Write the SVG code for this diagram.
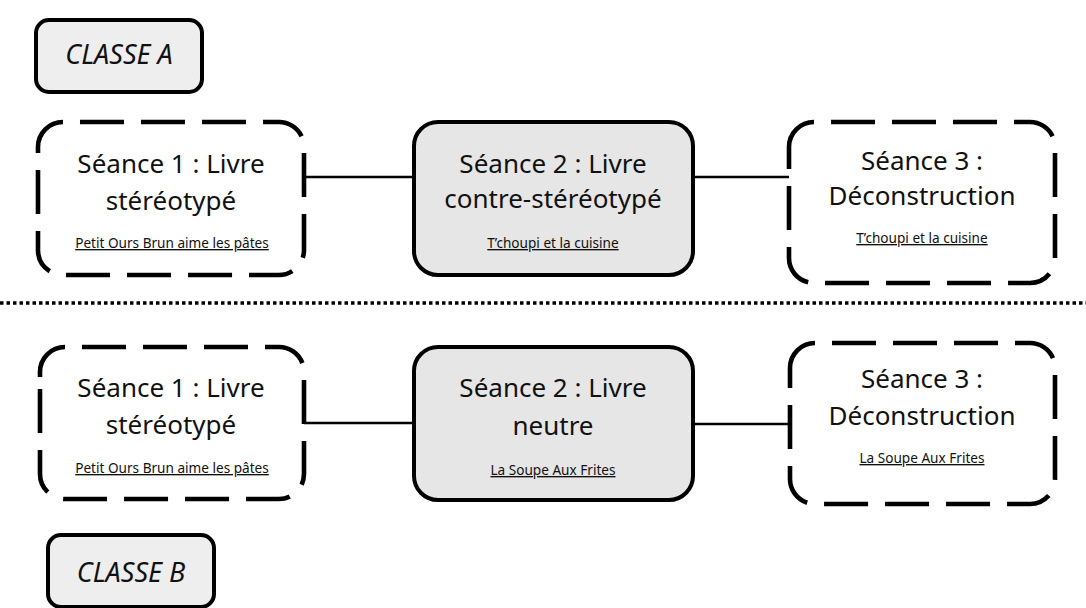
<svg xmlns="http://www.w3.org/2000/svg" width="1086" height="608" viewBox="0 0 1086 608">
<style>
.bg{fill:#ffffff}
.dash{fill:none;stroke:#000;stroke-width:4.6;stroke-dasharray:44 17}
.solid{fill:#e6e6e6;stroke:#000;stroke-width:4}
.cls{fill:#eeeeee;stroke:#000;stroke-width:4}
.conn{stroke:#000;stroke-width:2.5;fill:none}
.sep{stroke:#000;stroke-width:3.5;stroke-dasharray:3.5 3;fill:none}
.t{font-family:"Noto Sans","Open Sans",sans-serif;font-size:26px;fill:#111;text-anchor:middle}
.s{font-family:"Noto Sans","Open Sans",sans-serif;font-size:13.6px;fill:#111;text-anchor:middle;text-decoration:underline}
.c{font-family:"Noto Sans","Open Sans",sans-serif;font-size:27px;font-style:italic;fill:#111;text-anchor:middle}
</style>
<rect class="bg" x="0" y="0" width="1086" height="608"/>
<g id="connectors">
<line class="conn" x1="304" y1="177" x2="414" y2="177"/>
<line class="conn" x1="693" y1="177" x2="789" y2="177"/>
<line class="conn" x1="304" y1="423" x2="414" y2="423"/>
<line class="conn" x1="693" y1="424" x2="790" y2="424"/>
<line class="sep" x1="0" y1="303" x2="1086" y2="303"/>
</g>
<g id="classeA">
<rect class="cls" x="36" y="20" width="166" height="72" rx="13"/>
<text class="c" x="119" y="64">CLASSE A</text>
</g>
<g id="a1">
<path class="dash" d="M38 152 V147 A25 25 0 0 1 63 122 H279 A25 25 0 0 1 304 147 V250 A25 25 0 0 1 279 275 H63 A25 25 0 0 1 38 250 Z"/>
<text class="t" x="171" y="173">Séance 1 : Livre</text>
<text class="t" x="171" y="210">stéréotypé</text>
<text class="s" x="172" y="248">Petit Ours Brun aime les pâtes</text>
</g>
<g id="a2">
<rect class="solid" x="414" y="122" width="279" height="153" rx="24"/>
<text class="t" x="553" y="173">Séance 2 : Livre</text>
<text class="t" x="553" y="208">contre-stéréotypé</text>
<text class="s" x="553" y="248">T’choupi et la cuisine</text>
</g>
<g id="a3">
<path class="dash" d="M789 152 V147 A25 25 0 0 1 814 122 H1030 A25 25 0 0 1 1055 147 V258 A25 25 0 0 1 1030 283 H814 A25 25 0 0 1 789 258 Z"/>
<text class="t" x="922" y="170">Séance 3 :</text>
<text class="t" x="922" y="205">Déconstruction</text>
<text class="s" x="922" y="243">T’choupi et la cuisine</text>
</g>
<g id="b1">
<path class="dash" d="M40 377 V372 A25 25 0 0 1 65 347 H279 A25 25 0 0 1 304 372 V474 A25 25 0 0 1 279 499 H65 A25 25 0 0 1 40 474 Z"/>
<text class="t" x="171" y="397">Séance 1 : Livre</text>
<text class="t" x="171" y="434">stéréotypé</text>
<text class="s" x="172" y="473">Petit Ours Brun aime les pâtes</text>
</g>
<g id="b2">
<rect class="solid" x="414" y="347" width="279" height="153" rx="24"/>
<text class="t" x="553" y="397">Séance 2 : Livre</text>
<text class="t" x="553" y="435">neutre</text>
<text class="s" x="553" y="475">La Soupe Aux Frites</text>
</g>
<g id="b3">
<path class="dash" d="M790 373 V368 A25 25 0 0 1 815 343 H1030 A25 25 0 0 1 1055 368 V479 A25 25 0 0 1 1030 504 H815 A25 25 0 0 1 790 479 Z"/>
<text class="t" x="922" y="388">Séance 3 :</text>
<text class="t" x="922" y="425">Déconstruction</text>
<text class="s" x="922" y="463">La Soupe Aux Frites</text>
</g>
<g id="classeB">
<rect class="cls" x="48" y="535" width="166" height="72" rx="13"/>
<text class="c" x="131" y="582">CLASSE B</text>
</g>
</svg>
